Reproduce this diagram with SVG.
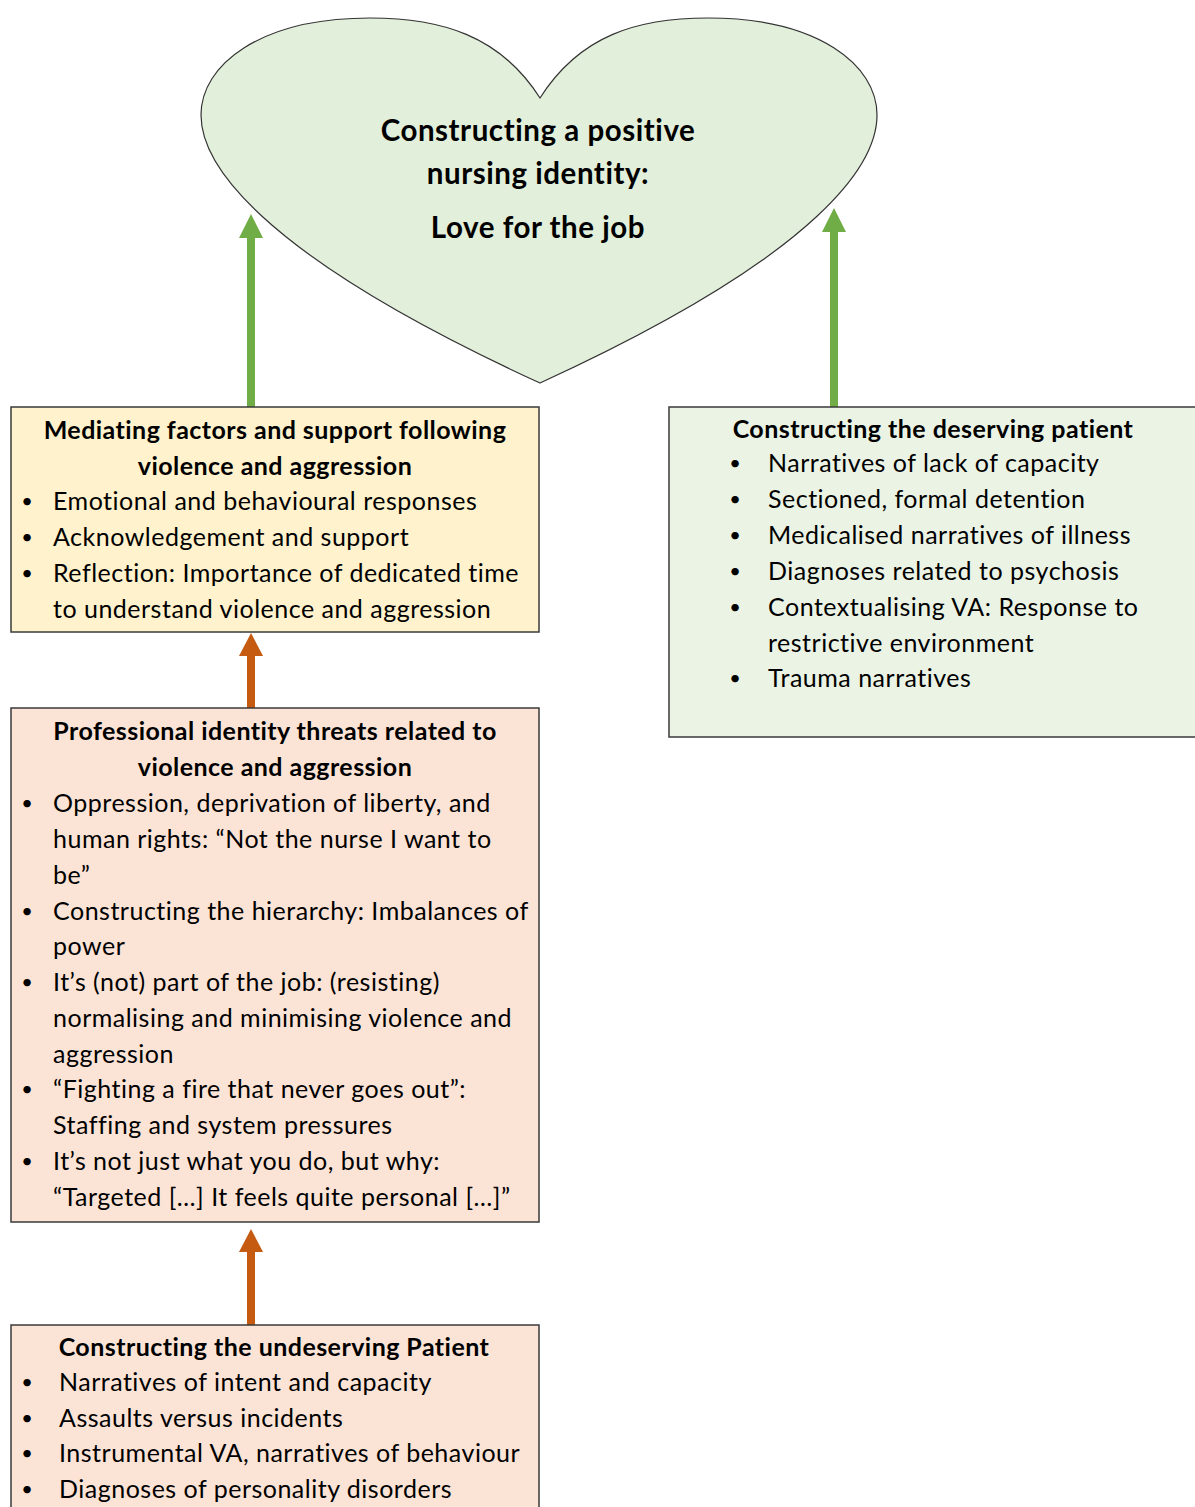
<svg xmlns="http://www.w3.org/2000/svg" width="1195" height="1507" viewBox="0 0 1195 1507">
<style>
  text { font-family: Lato, "Open Sans", "Liberation Sans", sans-serif; fill: #000; }
  .t { font-size: 25px; letter-spacing: 0.5px; }
  .b { font-size: 25px; font-weight: bold; letter-spacing: 0.45px; }
  .h { font-size: 29.5px; font-weight: bold; letter-spacing: 0.55px; }
  .d { font-size: 20px; text-anchor: middle; }
  .box { stroke: #3a3a3a; stroke-width: 1.5; }
</style>
<rect width="1195" height="1507" fill="#fff"/>

<g id="heart">
  <path d="M540,98 C500,35 440,18 370,18 C260,18 201,65 201,115 C201,160 250,250 540,383 C830,250 877,160 877,115 C877,65 818,18 708,18 C638,18 580,35 540,98 Z" fill="#e2efda" stroke="#333" stroke-width="1.2"/>
  <text class="h" x="538" y="141" text-anchor="middle">Constructing a positive</text>
  <text class="h" x="538" y="184" text-anchor="middle">nursing identity:</text>
  <text class="h" x="538" y="238" text-anchor="middle">Love for the job</text>
</g>

<g id="connectors">
  <line x1="251" y1="407" x2="251" y2="238" stroke="#70ad47" stroke-width="8"/>
  <path d="M239,238 L251,214 L263,238 Z" fill="#70ad47"/>
  <line x1="834" y1="407" x2="834" y2="232" stroke="#70ad47" stroke-width="8"/>
  <path d="M822,232 L834,208 L846,232 Z" fill="#70ad47"/>
  <line x1="251" y1="708" x2="251" y2="656" stroke="#c55a11" stroke-width="8"/>
  <path d="M239,656 L251,633 L263,656 Z" fill="#c55a11"/>
  <line x1="251" y1="1325" x2="251" y2="1252" stroke="#c55a11" stroke-width="8"/>
  <path d="M239,1252 L251,1229 L263,1252 Z" fill="#c55a11"/>
</g>

<g id="mediating">
  <rect class="box" x="11" y="407" width="528" height="225" fill="#fff2cc"/>
  <text class="b" x="275" y="439" text-anchor="middle">Mediating factors and support following</text>
  <text class="b" x="275" y="475" text-anchor="middle">violence and aggression</text>
  <text class="d" x="27" y="508">•</text><text class="t" x="53" y="510">Emotional and behavioural responses</text>
  <text class="d" x="27" y="544">•</text><text class="t" x="53" y="546">Acknowledgement and support</text>
  <text class="d" x="27" y="580">•</text><text class="t" x="53" y="582">Reflection: Importance of dedicated time</text>
  <text class="t" x="53" y="618">to understand violence and aggression</text>
</g>

<g id="deserving">
  <rect class="box" x="669" y="407" width="540" height="330" fill="#ebf3e5"/>
  <text class="b" x="933" y="438" text-anchor="middle">Constructing the deserving patient</text>
  <text class="d" x="735" y="470">•</text><text class="t" x="768" y="472">Narratives of lack of capacity</text>
  <text class="d" x="735" y="506">•</text><text class="t" x="768" y="508">Sectioned, formal detention</text>
  <text class="d" x="735" y="542">•</text><text class="t" x="768" y="544">Medicalised narratives of illness</text>
  <text class="d" x="735" y="578">•</text><text class="t" x="768" y="580">Diagnoses related to psychosis</text>
  <text class="d" x="735" y="614">•</text><text class="t" x="768" y="616">Contextualising VA: Response to</text>
  <text class="t" x="768" y="652">restrictive environment</text>
  <text class="d" x="735" y="685">•</text><text class="t" x="768" y="687">Trauma narratives</text>
</g>

<g id="threats">
  <rect class="box" x="11" y="708" width="528" height="514" fill="#fbe4d6"/>
  <text class="b" x="275" y="740" text-anchor="middle">Professional identity threats related to</text>
  <text class="b" x="275" y="776" text-anchor="middle">violence and aggression</text>
  <text class="d" x="27" y="810">•</text><text class="t" x="53" y="812">Oppression, deprivation of liberty, and</text>
  <text class="t" x="53" y="848">human rights: “Not the nurse I want to</text>
  <text class="t" x="53" y="884">be”</text>
  <text class="d" x="27" y="918">•</text><text class="t" x="53" y="920">Constructing the hierarchy: Imbalances of</text>
  <text class="t" x="53" y="955">power</text>
  <text class="d" x="27" y="989">•</text><text class="t" x="53" y="991">It’s (not) part of the job: (resisting)</text>
  <text class="t" x="53" y="1027">normalising and minimising violence and</text>
  <text class="t" x="53" y="1063">aggression</text>
  <text class="d" x="27" y="1096">•</text><text class="t" x="53" y="1098">“Fighting a fire that never goes out”:</text>
  <text class="t" x="53" y="1134">Staffing and system pressures</text>
  <text class="d" x="27" y="1168">•</text><text class="t" x="53" y="1170">It’s not just what you do, but why:</text>
  <text class="t" x="53" y="1206">“Targeted […] It feels quite personal […]”</text>
</g>

<g id="undeserving">
  <rect class="box" x="11" y="1325" width="528" height="200" fill="#fbe4d6"/>
  <text class="b" x="274" y="1356" text-anchor="middle">Constructing the undeserving Patient</text>
  <text class="d" x="27" y="1389">•</text><text class="t" x="59" y="1391">Narratives of intent and capacity</text>
  <text class="d" x="27" y="1425">•</text><text class="t" x="59" y="1427">Assaults versus incidents</text>
  <text class="d" x="27" y="1460">•</text><text class="t" x="59" y="1462">Instrumental VA, narratives of behaviour</text>
  <text class="d" x="27" y="1496">•</text><text class="t" x="59" y="1498">Diagnoses of personality disorders</text>
</g>
</svg>
